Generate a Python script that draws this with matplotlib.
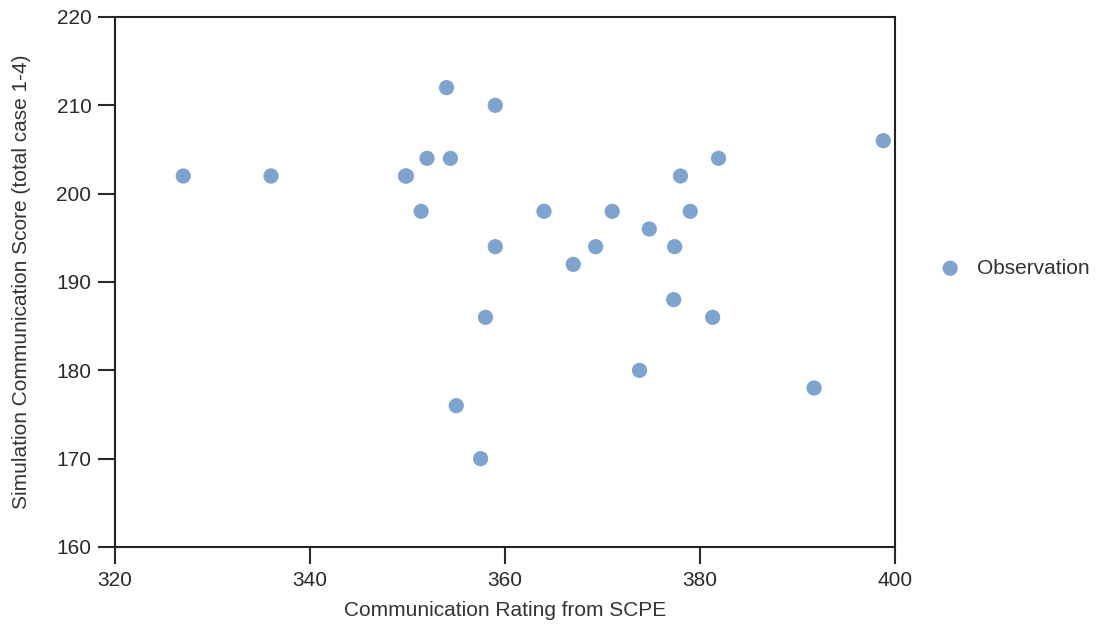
import numpy as np
import matplotlib.pyplot as plt

# values
scpe_rating = [327, 336, 349.8, 349.9, 351.4, 352, 354, 354.4, 355, 357.5, 358,
               359, 359, 364, 367, 369.3, 371, 373.8, 374.8, 377.4, 377.3,
               378, 379, 381.3, 381.9, 391.7, 398.8]
sim_score = [202, 202, 202, 202, 198, 204, 212, 204, 176, 170, 186,
             210, 194, 198, 192, 194, 198, 180, 196, 194, 188,
             202, 198, 186, 204, 178, 206]

x_ticks = [320, 340, 360, 380, 400]
y_ticks = [160, 170, 180, 190, 200, 210, 220]

plt.rcParams['font.family'] = ['Liberation Sans', 'DejaVu Sans']

fig = plt.figure(figsize=(11.01, 6.28), dpi=100)
ax = fig.add_axes([115/1101, 1 - 547/628, 780/1101, 530/628])

ax.scatter(scpe_rating, sim_score, s=120, color='#7fa3cf', edgecolors='none',
           label='Observation', zorder=3)

ax.set_xlim(320, 400)
ax.set_ylim(160, 220)
ax.set_xticks(x_ticks)
ax.set_yticks(y_ticks)
ax.tick_params(axis='both', direction='out', length=12, width=1.5,
               labelsize=15, colors='#2a2a2a', pad=5)
for sp in ax.spines.values():
    sp.set_linewidth(1.5)
    sp.set_color('#222222')

ax.set_xlabel('Communication Rating from SCPE', fontsize=15, color='#333333', labelpad=8)
ax.set_ylabel('Simulation Communication Score (total case 1-4)', fontsize=15,
              color='#333333', labelpad=18)

ax.legend(loc='center left', bbox_to_anchor=(1.02, 0.526), frameon=False,
          fontsize=15, handletextpad=0.3, markerscale=1.0, labelcolor='#333333')

fig.savefig('out.png', dpi=100)
